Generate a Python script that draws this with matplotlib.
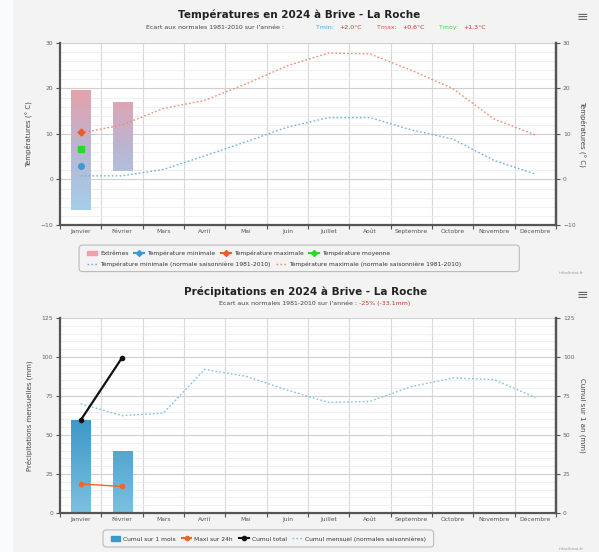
import matplotlib
matplotlib.use("Agg")
import matplotlib.pyplot as plt
import numpy as np
from matplotlib.colors import LinearSegmentedColormap
from matplotlib.lines import Line2D
from matplotlib.patches import FancyBboxPatch, Rectangle

# ---------------------------------------------------------------
# Data
# ---------------------------------------------------------------
months = ["Janvier", "Février", "Mars", "Avril", "Mai", "Juin", "Juillet",
          "Août", "Septembre", "Octobre", "Novembre", "Décembre"]

# temperatures 2024 (only January / February available)
ext_high = [19.6, 17.1]
ext_low = [-6.6, 1.8]
tmin_2024 = [2.9]
tmax_2024 = [10.4]
tmoy_2024 = [6.7]

# normals 1981-2010
tmin_norm = [0.8, 0.8, 2.2, 5.2, 8.3, 11.5, 13.6, 13.6, 10.9, 8.9, 4.2, 1.2]
tmax_norm = [10.2, 12.0, 15.6, 17.4, 21.0, 25.0, 27.8, 27.6, 24.0, 20.0, 13.3, 9.8]

# precipitation 2024
precip_month = [59.5, 40.0]
precip_max24 = [18.6, 17.0]
precip_cumul = [59.5, 99.5]
precip_norm = [70.0, 62.4, 64.0, 92.0, 87.6, 78.8, 70.8, 71.5, 81.0, 86.5, 85.5, 74.0]

FONT = "DejaVu Sans"
plt.rcParams["font.family"] = FONT

x = np.arange(len(months))

fig = plt.figure(figsize=(5.99, 5.52), dpi=100, facecolor="#f3f3f3")
fig.patches.append(Rectangle((0, 0), 0.02, 1, transform=fig.transFigure,
                             color="#f9fbfd", zorder=0))


def style_axes(ax, ymin, ymax, major, minor):
    ax.set_facecolor("white")
    ax.set_xlim(-0.5, 11.5)
    ax.set_ylim(ymin, ymax)
    ax.set_yticks(np.arange(ymin, ymax + 0.1, major))
    ax.set_yticks(np.arange(ymin, ymax + 0.1, minor), minor=True)
    ax.yaxis.grid(True, which="minor", color="#ececec", lw=0.6)
    ax.yaxis.grid(True, which="major", color="#cfcfcf", lw=0.8)
    for b in np.arange(0.5, 11.5, 1):
        ax.axvline(b, color="#d9d9d9", lw=0.8, zorder=0.5)
    ax.set_axisbelow(True)
    ax.set_xticks(x)
    ax.set_xticklabels(months, fontsize=4.3, color="#555555")
    ax.set_xticks(np.arange(-0.5, 12, 1), minor=True)
    ax.tick_params(axis="x", which="major", length=0, pad=3)
    ax.tick_params(axis="x", which="minor", length=3, width=0.8,
                   color="#555555", direction="out")
    ax.tick_params(axis="y", which="major", length=3, width=0.8,
                   labelsize=4.3, labelcolor="#666666", color="#555555", pad=2)
    ax.tick_params(axis="y", which="minor", length=0)
    ax.spines["top"].set_visible(False)
    for s in ("left", "right", "bottom"):
        ax.spines[s].set_color("#555555")
        ax.spines[s].set_linewidth(1.6)


def right_axis(ax, label):
    ax2 = ax.twinx()
    ax2.set_ylim(ax.get_ylim())
    ax2.set_yticks(ax.get_yticks())
    ax2.tick_params(axis="y", length=3, width=0.8, labelsize=4.3,
                    labelcolor="#666666", color="#555555", pad=2)
    for s in ("top", "left", "bottom"):
        ax2.spines[s].set_visible(False)
    ax2.spines["right"].set_color("#555555")
    ax2.spines["right"].set_linewidth(1.6)
    ax2.set_ylabel(label, rotation=270, fontsize=5, color="#444444", labelpad=8)
    return ax2


def gradient_bars(ax, bars, colors, y0, y1):
    cmap = LinearSegmentedColormap.from_list("g", colors)
    grad = np.linspace(0, 1, 256).reshape(-1, 1)
    for bar in bars:
        bx = bar.get_x()
        im = ax.imshow(grad, cmap=cmap, aspect="auto", origin="lower",
                       extent=(bx, bx + bar.get_width(), y0, y1), zorder=2)
        im.set_clip_path(bar)
        bar.set_facecolor("none")
        bar.set_edgecolor("none")


def menu_icon(y):
    fig.text(0.972, y, "≡", fontsize=10, color="#666666", ha="center", va="center")


# ---------------------------------------------------------------
# 1. Temperatures
# ---------------------------------------------------------------
ax1 = fig.add_axes([0.1002, 0.5924, 0.828, 0.3297])
style_axes(ax1, -10, 30, 10, 2)

h = [hi - lo for hi, lo in zip(ext_high, ext_low)]
bars = ax1.bar(x[:2], h, bottom=ext_low, width=0.46, zorder=2)
gradient_bars(ax1, bars, ["#a4cfe9", "#b9b6d3", "#e7a1ab"], -7, 20)
ax1.set_xlim(-0.5, 11.5)
ax1.set_ylim(-10, 30)

ax1.plot(x, tmin_norm, ls=(0, (1.2, 1.6)), color="#6fb3dc", lw=1.0, zorder=3)
ax1.plot(x, tmax_norm, ls=(0, (1.2, 1.6)), color="#f08a70", lw=1.0, zorder=3)
ax1.plot(x[:1], tmax_2024, marker="D", ms=3.5, color="#f15a24", ls="none", zorder=4)
ax1.plot(x[:1], tmoy_2024, marker="s", ms=4, color="#22dd22", ls="none", zorder=4)
ax1.plot(x[:1], tmin_2024, marker="o", ms=4, color="#3c9ad0", ls="none", zorder=4)
ax1.set_ylabel("Températures (° C)", fontsize=5, color="#444444", labelpad=6)
right_axis(ax1, "Températures (° C)")

fig.text(0.5, 0.974, "Températures en 2024 à Brive - La Roche", ha="center",
         va="center", fontsize=7.5, fontweight="bold", color="#222222")
fig.text(0.5, 0.951, "Ecart aux normales 1981-2010 sur l'année :        ",
         ha="right", va="center", fontsize=4.5, color="#444444")
fig.text(0.527, 0.951, "Tmin: ", ha="left", va="center", fontsize=4.5, color="#4aa8e0")
fig.text(0.566, 0.951, "+2,0°C", ha="left", va="center", fontsize=4.5, color="#c0392b")
fig.text(0.630, 0.951, "Tmax: ", ha="left", va="center", fontsize=4.5, color="#d9534f")
fig.text(0.671, 0.951, "+0,6°C", ha="left", va="center", fontsize=4.5, color="#c0392b")
fig.text(0.733, 0.951, "Tmoy: ", ha="left", va="center", fontsize=4.5, color="#3fdc3f")
fig.text(0.774, 0.951, "+1,3°C", ha="left", va="center", fontsize=4.5, color="#c0392b")
menu_icon(0.970)

leg_kw = dict(fontsize=4.3, frameon=False, handlelength=1.6, handletextpad=0.5,
              columnspacing=1.0, borderpad=0.1, labelcolor="#333333")
row1 = [Rectangle((0, 0), 1, 1, color="#f0a0a8"),
        Line2D([], [], color="#3c9ad0", marker="D", ms=3),
        Line2D([], [], color="#f15a24", marker="D", ms=3),
        Line2D([], [], color="#22dd22", marker="D", ms=3)]
row1_lab = ["Extrêmes", "Température minimale", "Température maximale",
            "Température moyenne"]
row2 = [Line2D([], [], color="#6fb3dc", ls=(0, (1.2, 1.6)), lw=1),
        Line2D([], [], color="#f08a70", ls=(0, (1.2, 1.6)), lw=1)]
row2_lab = ["Température minimale (normale saisonnière 1981-2010)",
            "Température maximale (normale saisonnière 1981-2010)"]
fig.legend(row1, row1_lab, ncol=4, loc="center left",
           bbox_to_anchor=(0.14, 0.541), **leg_kw)
fig.legend(row2, row2_lab, ncol=2, loc="center left",
           bbox_to_anchor=(0.14, 0.522), **leg_kw)
fig.patches.append(FancyBboxPatch((0.132, 0.508), 0.735, 0.048,
                                  boxstyle="round,pad=0,rounding_size=0.006",
                                  transform=fig.transFigure, fc="none",
                                  ec="#bbbbbb", lw=0.8))
fig.text(0.975, 0.505, "infoclimat.fr", ha="right", va="center",
         fontsize=3, color="#999999")

# ---------------------------------------------------------------
# 2. Precipitation
# ---------------------------------------------------------------
ax2 = fig.add_axes([0.1002, 0.0707, 0.828, 0.3533])
style_axes(ax2, 0, 125, 25, 5)

bars = ax2.bar(x[:2], precip_month, width=0.46, zorder=2)
gradient_bars(ax2, bars, ["#7cc0e0", "#3d98c7"], 0, 60)
ax2.set_xlim(-0.5, 11.5)
ax2.set_ylim(0, 125)

ax2.plot(x, precip_norm, ls=(0, (1.2, 1.6)), color="#7fc0e0", lw=1.0, zorder=3)
ax2.plot(x[:2], precip_max24, marker="o", ms=3, color="#f26522", lw=1.0, zorder=4)
ax2.plot(x[:2], precip_cumul, marker="o", ms=3, color="#111111", lw=1.6, zorder=4)
ax2.set_ylabel("Précipitations mensuelles (mm)", fontsize=5, color="#444444", labelpad=6)
right_axis(ax2, "Cumul sur 1 an (mm)")

fig.text(0.51, 0.471, "Précipitations en 2024 à Brive - La Roche", ha="center",
         va="center", fontsize=7.5, fontweight="bold", color="#222222")
fig.text(0.60, 0.451, "Ecart aux normales 1981-2010 sur l'année : ",
         ha="right", va="center", fontsize=4.5, color="#444444")
fig.text(0.60, 0.451, "-25% (-33.1mm)", ha="left", va="center",
         fontsize=4.5, color="#c0392b")
menu_icon(0.466)

handles = [Rectangle((0, 0), 1, 1, color="#3d98c7"),
           Line2D([], [], color="#f26522", marker="o", ms=3),
           Line2D([], [], color="#111111", marker="o", ms=3),
           Line2D([], [], color="#7fc0e0", ls=(0, (1.2, 1.6)), lw=1)]
labels = ["Cumul sur 1 mois", "Maxi sur 24h", "Cumul total",
          "Cumul mensuel (normales saisonnières)"]
fig.legend(handles, labels, ncol=4, loc="center", bbox_to_anchor=(0.448, 0.024),
           **leg_kw)
fig.patches.append(FancyBboxPatch((0.172, 0.009), 0.552, 0.031,
                                  boxstyle="round,pad=0,rounding_size=0.006",
                                  transform=fig.transFigure, fc="none",
                                  ec="#bbbbbb", lw=0.8))
fig.text(0.975, 0.006, "infoclimat.fr", ha="right", va="center",
         fontsize=3, color="#999999")

fig.savefig("out.png", dpi=100, facecolor=fig.get_facecolor())
